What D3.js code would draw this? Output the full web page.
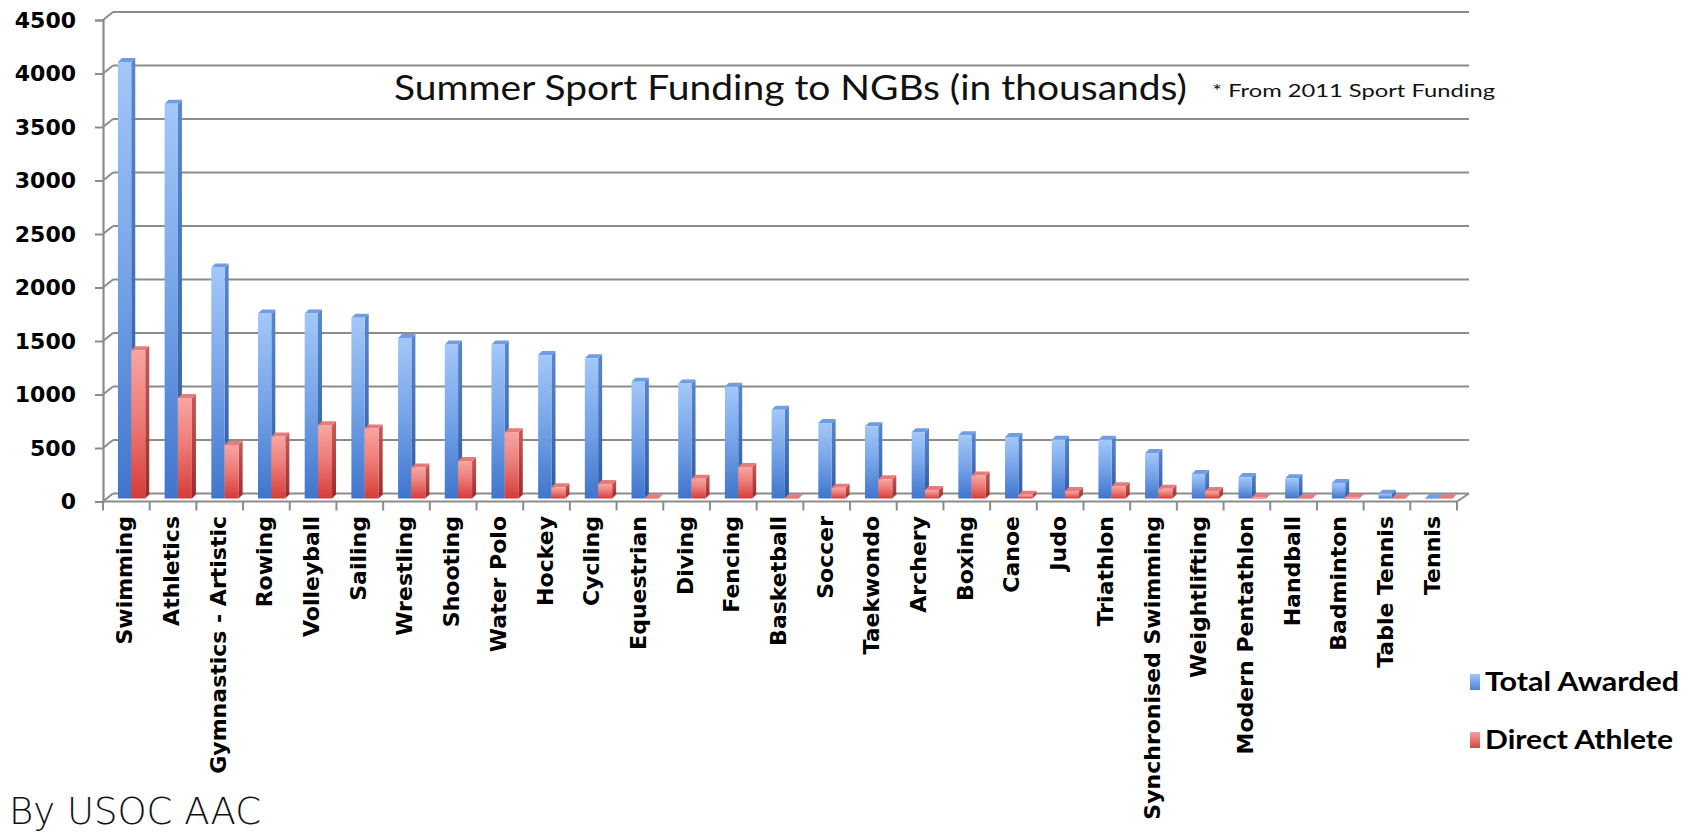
<!DOCTYPE html>
<html>
<head>
<meta charset="utf-8">
<script src="https://cdn.jsdelivr.net/npm/d3@7"></script>
<style>
  html, body { margin: 0; padding: 0; background: #fff; }
  svg { display: block; }
</style>
</head>
<body>
<svg id="chart" width="1692" height="833"></svg>
<script>
const categories = ["Swimming","Athletics","Gymnastics - Artistic","Rowing","Volleyball","Sailing","Wrestling","Shooting","Water Polo","Hockey","Cycling","Equestrian","Diving","Fencing","Basketball","Soccer","Taekwondo","Archery","Boxing","Canoe","Judo","Triathlon","Synchronised Swimming","Weightlifting","Modern Pentathlon","Handball","Badminton","Table Tennis","Tennis"];
const totalAwarded = [4080,3690,2160,1730,1730,1690,1500,1440,1440,1340,1310,1090,1075,1045,830,705,675,620,590,575,550,550,425,230,200,190,145,45,3];
const directAthlete = [1385,940,500,580,685,655,290,350,620,105,135,3,185,295,3,100,180,80,215,35,70,115,90,70,10,3,10,3,2];
const yTicks = [0,500,1000,1500,2000,2500,3000,3500,4000,4500];
const seriesNames = ["Total Awarded","Direct Athlete"];
const titleText = "Summer Sport Funding to NGBs (in thousands)";
const noteText = "* From 2011 Sport Funding";
const creditText = "By USOC AAC";

const svg = d3.select("#chart");
const defs = svg.append("defs");

const wallDX = 10;
const x = d3.scaleBand().domain(categories).range([103, 1457]);
const yFront = d3.scaleLinear().domain([0, 4500]).range([501.5, 20]);
const yBack = d3.scaleLinear().domain([0, 4500]).range([493.5, 12]);
const gridRight = 1469;

function grad(id, stops, x1, y1, x2, y2) {
  const g = defs.append("linearGradient").attr("id", id)
    .attr("x1", x1).attr("y1", y1).attr("x2", x2).attr("y2", y2);
  stops.forEach(s => g.append("stop").attr("offset", s[0]).attr("stop-color", s[1]));
}
grad("blueFront", [[0, "#a3c7f8"], [0.45, "#7aa7ea"], [1, "#3f75cc"]], 0, 0, 0, 1);
grad("blueSide", [[0, "#5a86cf"], [1, "#2c5aa3"]], 0, 0, 0, 1);
grad("redFront", [[0, "#f8a5a2"], [0.45, "#ee7d79"], [1, "#d63c38"]], 0, 0, 0, 1);
grad("redSide", [[0, "#c85a58"], [1, "#9c2a28"]], 0, 0, 0, 1);
grad("blueLeg", [[0, "#9fc4f7"], [1, "#4f84d6"]], 0, 0, 0, 1);
grad("redLeg", [[0, "#f6a09d"], [1, "#d64541"]], 0, 0, 0, 1);

const gridColor = "#8c8c8c";
const g = svg.append("g");

g.selectAll("line.grid").data(yTicks).enter().append("line")
  .attr("x1", 103 + wallDX).attr("x2", gridRight)
  .attr("y1", d => yBack(d)).attr("y2", d => yBack(d))
  .attr("stroke", gridColor).attr("stroke-width", 2.2);

g.selectAll("line.diag").data(yTicks).enter().append("line")
  .attr("x1", 103).attr("y1", d => yFront(d))
  .attr("x2", 103 + wallDX).attr("y2", d => yBack(d))
  .attr("stroke", gridColor).attr("stroke-width", 2);

g.append("line").attr("x1", 103).attr("x2", 1457).attr("y1", yFront(0)).attr("y2", yFront(0))
  .attr("stroke", gridColor).attr("stroke-width", 2.2);
g.append("line").attr("x1", 1457).attr("y1", yFront(0)).attr("x2", gridRight).attr("y2", yBack(0))
  .attr("stroke", gridColor).attr("stroke-width", 2);

const yAxis = d3.axisLeft(yFront).tickValues(yTicks).tickSize(8).tickPadding(19).tickFormat(d3.format("d"));
const ya = svg.append("g").attr("transform", "translate(103,0)").call(yAxis);
ya.select(".domain").attr("stroke", gridColor).attr("stroke-width", 2.2);
ya.selectAll(".tick line").attr("stroke", gridColor).attr("stroke-width", 2);
ya.selectAll(".tick text").attr("font-family", "'DejaVu Sans', Verdana, sans-serif")
  .attr("font-weight", "bold").attr("font-size", 22).attr("fill", "#000");

const bounds = categories.map(c => x(c)).concat([x.range()[1]]);
g.selectAll("line.ctick").data(bounds).enter().append("line")
  .attr("x1", d => d).attr("x2", d => d).attr("y1", yFront(0)).attr("y2", yFront(0) + 9)
  .attr("stroke", gridColor).attr("stroke-width", 2);

const bw = x.bandwidth();
const barDX = 4, barDY = 4;
const baseY = v => yBack(v) + 5;
function drawBar(sel, cx0, cx1, v, front, side, top) {
  const yT = baseY(v), yB = baseY(0);
  sel.append("path").attr("d", `M${cx1},${yB} L${cx1 + barDX},${yB - barDY} L${cx1 + barDX},${yT - barDY} L${cx1},${yT} Z`)
    .attr("fill", `url(#${side})`);
  sel.append("path").attr("d", `M${cx0},${yT} L${cx0 + barDX},${yT - barDY} L${cx1 + barDX},${yT - barDY} L${cx1},${yT} Z`)
    .attr("fill", top);
  sel.append("rect").attr("x", cx0).attr("y", yT).attr("width", cx1 - cx0).attr("height", Math.max(0.6, yB - yT))
    .attr("fill", `url(#${front})`);
}
const bars = g.append("g");
categories.forEach((c, i) => {
  const x0 = x(c);
  const gb = bars.append("g");
  drawBar(gb, x0 + bw * 0.32, x0 + bw * 0.605, totalAwarded[i], "blueFront", "blueSide", "#6e9de6");
  drawBar(gb, x0 + bw * 0.605, x0 + bw * 0.905, directAthlete[i], "redFront", "redSide", "#e77b78");
});

svg.append("g").selectAll("text.cat").data(categories).enter().append("text")
  .attr("transform", d => `translate(${x(d) + bw / 2 + 6},516) rotate(-90)`)
  .attr("text-anchor", "end")
  .attr("font-family", "'DejaVu Sans', Verdana, sans-serif").attr("font-weight", "bold")
  .attr("font-size", 22).attr("fill", "#000")
  .text(d => d);

svg.append("text").attr("x", 394).attr("y", 100)
  .attr("font-family", "Lato, 'Open Sans', sans-serif").attr("font-size", 35).attr("fill", "#111")
  .attr("textLength", 793).attr("lengthAdjust", "spacingAndGlyphs").text(titleText);
svg.append("text").attr("x", 1212).attr("y", 97)
  .attr("font-family", "Lato, 'Open Sans', sans-serif").attr("font-size", 18).attr("fill", "#111")
  .attr("textLength", 283).attr("lengthAdjust", "spacingAndGlyphs").text(noteText);

const legY = [682, 740];
const legFill = ["url(#blueLeg)", "url(#redLeg)"];
const legW = [194, 188];
seriesNames.forEach((s, i) => {
  svg.append("rect").attr("x", 1470).attr("y", legY[i] - 8).attr("width", 10).attr("height", 16).attr("fill", legFill[i]);
  svg.append("text").attr("x", 1485).attr("y", legY[i] + 9)
    .attr("font-family", "Lato, 'Open Sans', sans-serif").attr("font-weight", "bold").attr("font-size", 27)
    .attr("fill", "#000").attr("textLength", legW[i]).attr("lengthAdjust", "spacingAndGlyphs").text(s);
});

svg.append("text").attr("x", 9).attr("y", 824)
  .attr("font-family", "'DejaVu Sans', sans-serif").attr("font-weight", 200).attr("font-size", 37)
  .attr("fill", "#111").attr("textLength", 252).attr("lengthAdjust", "spacingAndGlyphs").text(creditText);
</script>
</body>
</html>
